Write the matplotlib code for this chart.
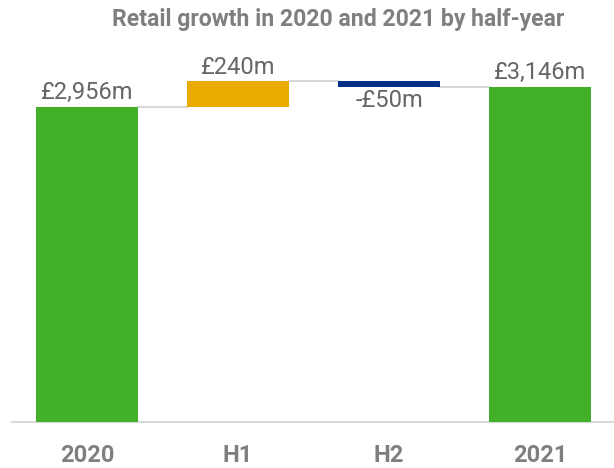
import matplotlib.pyplot as plt

plt.rcParams['font.family'] = ['Roboto', 'DejaVu Sans']

categories = ["2020", "H1", "H2", "2021"]
changes = [2956, 240, -50, 3146]
value_labels = ["£2,956m", "£240m", "-£50m", "£3,146m"]
kinds = ["total", "delta", "delta", "total"]
colors = ["#43b02a", "#eaab00", "#003087", "#43b02a"]

fig = plt.figure(figsize=(6.14, 4.68), dpi=100)
ax = fig.add_axes([0.0195, 0.098, 0.9805, 0.785])

width = 0.67
running = 0
tops = []
for i, (cat, v, kind, c) in enumerate(zip(categories, changes, kinds, colors)):
    if kind == "total":
        bottom, height = 0, v
        running = v
    else:
        bottom = running if v >= 0 else running + v
        height = abs(v)
        running += v
    ax.bar(i, height, bottom=bottom, width=width, color=c, zorder=3)
    tops.append(running)
    if v >= 0:
        ax.text(i, bottom + height + 25, value_labels[i], ha='center', va='bottom',
                fontsize=17, color='#666666')
    else:
        ax.text(i, bottom - 25, value_labels[i], ha='center', va='top',
                fontsize=17, color='#666666')

# connectors between consecutive bars
for i in range(len(categories) - 1):
    ax.plot([i + width / 2, i + 1 - width / 2], [tops[i], tops[i]],
            color='#d9d9d9', lw=1.5, zorder=2)

ax.set_xlim(-0.497, 3.49)
ax.set_ylim(0, 3444)
ax.set_xticks(range(len(categories)))
ax.set_xticklabels(categories, fontsize=17, fontweight='bold', color='#7f7f7f')
ax.tick_params(axis='x', length=0, pad=16)
ax.set_yticks([])
for s in ['top', 'right', 'left']:
    ax.spines[s].set_visible(False)
ax.spines['bottom'].set_color('#d9d9d9')
ax.spines['bottom'].set_linewidth(1.5)

fig.text(0.551, 0.958, "Retail growth in 2020 and 2021 by half-year", ha='center', va='center',
         fontsize=16.6, fontweight='bold', color='#7f7f7f')

fig.savefig("out.png", dpi=100)
